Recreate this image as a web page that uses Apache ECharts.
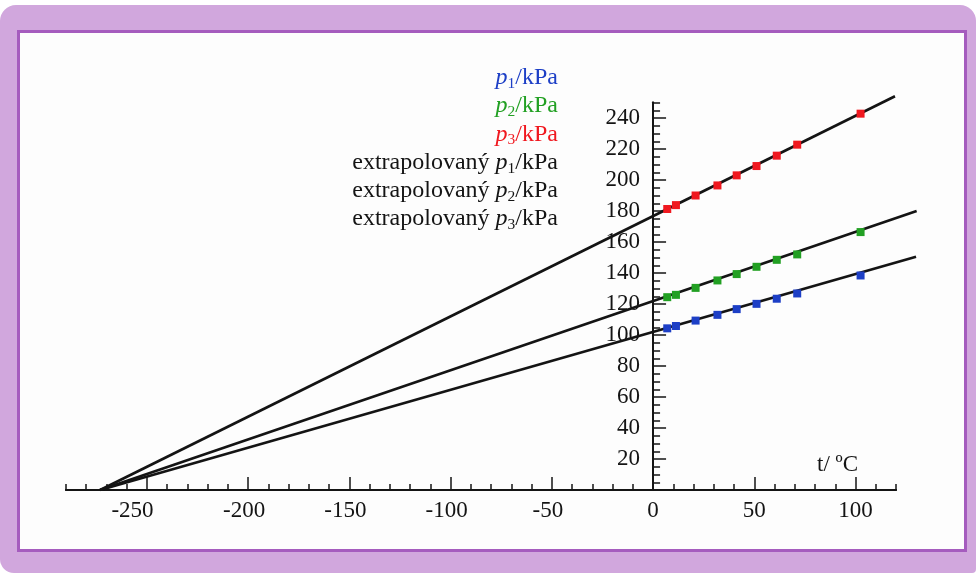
<!DOCTYPE html>
<html>
<head>
<meta charset="utf-8">
<title>extrapolace tlaku</title>
<script src="https://cdn.jsdelivr.net/npm/echarts@6/dist/echarts.min.js"></script>
<style>
  html, body { margin: 0; padding: 0; background: #fff; }
  #frame { position: absolute; left: 0; top: 5px; width: 976px; height: 568px; background: #d1a7dd; border-radius: 16px 16px 4px 14px; }
  #paper { position: absolute; left: 17px; top: 30px; width: 944px; height: 516px; background: #fdfdfd; border: 3px solid #a55cbe; }
  #chart { position: absolute; left: 0; top: 0; width: 976px; height: 573px; }
</style>
</head>
<body>
<div id="frame"></div>
<div id="paper"></div>
<div id="chart"></div>
<script>
// measured temperatures (°C) and pressures (kPa)
const temps = [7, 11.3, 21, 31.8, 41.3, 51.1, 61.1, 71.2, 102.5];
const p1 = [104.3, 105.8, 109.3, 113.0, 116.7, 120.1, 123.4, 126.8, 138.4];
const p2 = [124.4, 125.9, 130.4, 135.2, 139.3, 144.0, 148.5, 152.0, 166.4];
const p3 = [181.3, 183.8, 190.0, 196.5, 203.0, 209.0, 215.7, 222.8, 242.8];

// extrapolated lines: from absolute zero to where they end in the picture
const ext1 = [[-273.15, 0], [129.9, 150.5]];
const ext2 = [[-273.15, 0], [130.2, 180.0]];
const ext3 = [[-273.15, 0], [119.5, 254.0]];

const xMajorTicks = [-250, -200, -150, -100, -50, 0, 50, 100];
const yMajorTicks = [20, 40, 60, 80, 100, 120, 140, 160, 180, 200, 220, 240];

const ink = '#141414';
const blue = '#1d3fc6';
const green = '#22a023';
const red = '#f0181f';
const serif = "'Liberation Serif', 'Times New Roman', serif";

const zip = (xs, ys) => xs.map((x, i) => [x, ys[i]]);

// rich styles for the legend, one set per colour
const rich = {};
for (const [k, c] of [['B', blue], ['G', green], ['R', red], ['K', ink]]) {
  rich['t' + k] = { color: c, fontFamily: serif, fontSize: 24, lineHeight: 28.3 };
  rich['p' + k] = { color: c, fontFamily: serif, fontSize: 24, lineHeight: 28.3, fontStyle: 'italic' };
  rich['s' + k] = { color: c, fontFamily: serif, fontSize: 15.5, lineHeight: 4, verticalAlign: 'bottom' };
}
const legendText = {
  p1: '{pB|p}{sB|1}{tB|/kPa}',
  p2: '{pG|p}{sG|2}{tG|/kPa}',
  p3: '{pR|p}{sR|3}{tR|/kPa}',
  e1: '{tK|extrapolovaný }{pK|p}{sK|1}{tK|/kPa}',
  e2: '{tK|extrapolovaný }{pK|p}{sK|2}{tK|/kPa}',
  e3: '{tK|extrapolovaný }{pK|p}{sK|3}{tK|/kPa}'
};

const labelFont = { color: ink, fontFamily: serif, fontSize: 23 };

// plot area: x -290..120 over 66..896 px, y 0..250 over 490..102.5 px
const X_MIN = -290, X_MAX = 120, Y_MAX = 250;
const PX_X = 830 / 410, PX_Y = 387.5 / 250;
const Y_AXIS_SHIFT = -(0 - X_MIN) * PX_X;

const chart = echarts.init(document.getElementById('chart'));

chart.setOption({
  animation: false,
  backgroundColor: 'transparent',
  grid: [
    { left: 66, right: 80, top: 102.5, bottom: 83, outerBoundsMode: 'none' },
    // wider hidden grid with the same scale, so the fitted lines can run past the axes
    { left: 66, right: 976 - 66 - (131 - X_MIN) * PX_X, top: 490 - 256 * PX_Y, bottom: 83, outerBoundsMode: 'none' }
  ],
  legend: {
    orient: 'vertical',
    right: 413,
    top: 63.5,
    padding: 0,
    itemGap: 0,
    itemWidth: 0,
    itemHeight: 0,
    icon: 'rect',
    align: 'right',
    selectedMode: false,
    data: ['p1', 'p2', 'p3', 'e1', 'e2', 'e3'],
    formatter: (name) => legendText[name],
    textStyle: { fontFamily: serif, fontSize: 24, lineHeight: 28.3, color: ink, rich: rich }
  },
  xAxis: [
    {
      gridIndex: 0, type: 'value', min: X_MIN, max: X_MAX, interval: 10, position: 'bottom',
      name: 't/ ºC', nameLocation: 'end', nameGap: -38,
      nameTextStyle: { color: ink, fontFamily: serif, fontSize: 23, align: 'right', verticalAlign: 'bottom', padding: [0, 0, 14, 0] },
      axisLine: { lineStyle: { color: ink, width: 2 } },
      axisTick: { inside: true, length: 6, lineStyle: { color: ink, width: 1.5 } },
      axisLabel: { show: false },
      splitLine: { show: false }
    },
    {
      gridIndex: 0, type: 'value', min: X_MIN, max: X_MAX, interval: 10, position: 'bottom',
      axisLine: { lineStyle: { color: ink, width: 2 } },
      axisTick: { inside: true, length: 13, customValues: xMajorTicks, lineStyle: { color: ink, width: 1.5 } },
      axisLabel: {
        customValues: xMajorTicks,
        margin: 9,
        ...labelFont,
        formatter: (v) => v === -250 ? '{far|' + v + '}' : v < 0 ? '{neg|' + v + '}' : String(v),
        rich: {
          neg: { ...labelFont, padding: [0, 8, 0, 0] },
          far: { ...labelFont, padding: [0, 29, 0, 0] }
        }
      },
      splitLine: { show: false }
    },
    { gridIndex: 1, type: 'value', min: X_MIN, max: 131, show: false }
  ],
  yAxis: [
    {
      gridIndex: 0, type: 'value', min: 0, max: Y_MAX, interval: 5, position: 'left', offset: Y_AXIS_SHIFT,
      axisLine: { show: true, onZero: false, lineStyle: { color: ink, width: 2 } },
      axisTick: { inside: true, length: 7, lineStyle: { color: ink, width: 1.5 } },
      axisLabel: { show: false },
      splitLine: { show: false }
    },
    {
      gridIndex: 0, type: 'value', min: 0, max: Y_MAX, interval: 5, position: 'left', offset: Y_AXIS_SHIFT,
      axisLine: { show: true, onZero: false, lineStyle: { color: ink, width: 2 } },
      axisTick: { inside: true, length: 13, customValues: yMajorTicks, lineStyle: { color: ink, width: 1.5 } },
      axisLabel: { customValues: yMajorTicks, margin: 13, ...labelFont },
      splitLine: { show: false }
    },
    { gridIndex: 1, type: 'value', min: 0, max: 256, show: false }
  ],
  series: [
    { name: 'e1', type: 'line', xAxisIndex: 2, yAxisIndex: 2, data: ext1, showSymbol: false, z: 2, lineStyle: { color: ink, width: 2.7 }, itemStyle: { color: ink } },
    { name: 'e2', type: 'line', xAxisIndex: 2, yAxisIndex: 2, data: ext2, showSymbol: false, z: 2, lineStyle: { color: ink, width: 2.7 }, itemStyle: { color: ink } },
    { name: 'e3', type: 'line', xAxisIndex: 2, yAxisIndex: 2, data: ext3, showSymbol: false, z: 2, lineStyle: { color: ink, width: 2.7 }, itemStyle: { color: ink } },
    { name: 'p1', type: 'scatter', data: zip(temps, p1), symbol: 'rect', symbolSize: 8, z: 3, itemStyle: { color: blue, opacity: 1 } },
    { name: 'p2', type: 'scatter', data: zip(temps, p2), symbol: 'rect', symbolSize: 8, z: 3, itemStyle: { color: green, opacity: 1 } },
    { name: 'p3', type: 'scatter', data: zip(temps, p3), symbol: 'rect', symbolSize: 8, z: 3, itemStyle: { color: red, opacity: 1 } }
  ]
});
</script>
</body>
</html>
